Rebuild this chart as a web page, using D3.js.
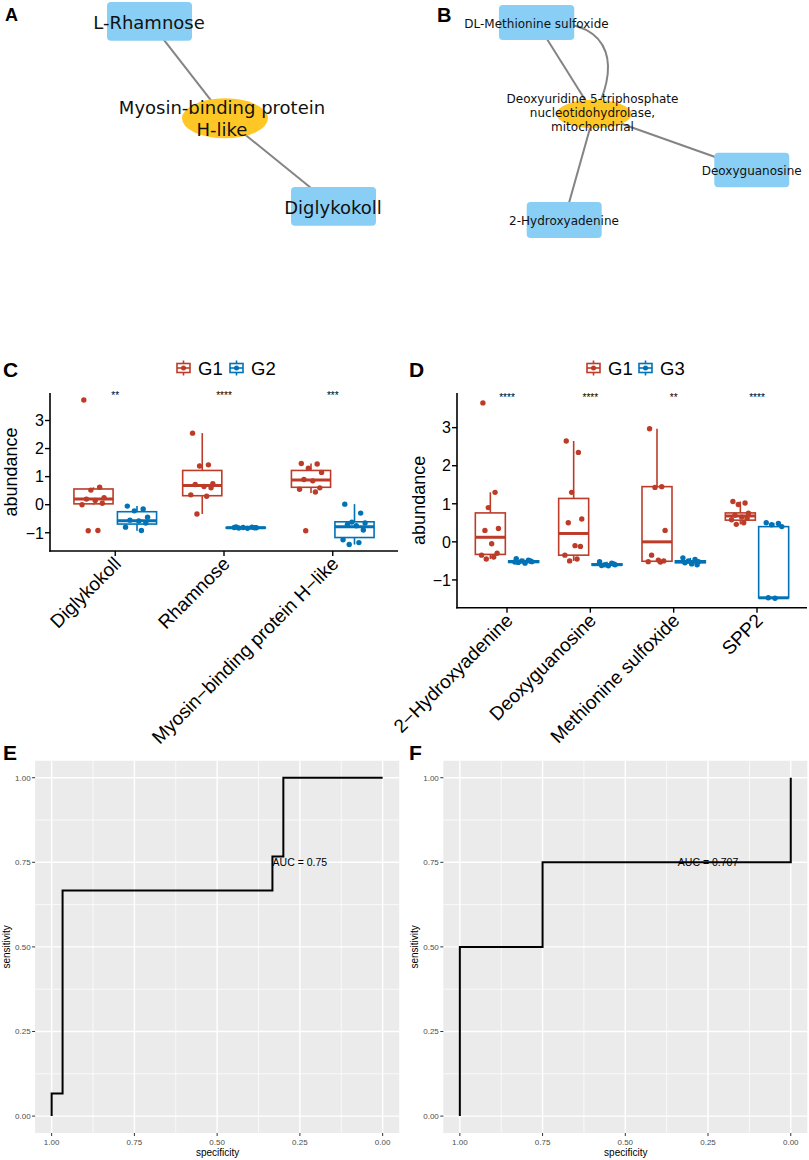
<!DOCTYPE html>
<html><head><meta charset="utf-8">
<script src="https://cdn.jsdelivr.net/npm/d3@7"></script>
<style>body{margin:0;background:#fff} svg{display:block}</style>
</head><body>
<svg id="c" width="809" height="1160"></svg>
<script>
// ---------------- DATA ----------------
// Network A
const netA_labels = ["L-Rhamnose", "Myosin-binding protein\nH-like", "Diglykokoll"];
const netA_types = ["metabolite", "protein", "metabolite"];
const netA_edges = [[0, 1], [1, 2]];
// Network B
const netB_labels = ["DL-Methionine sulfoxide", "Deoxyuridine 5-triphosphate\nnucleotidohydrolase,\nmitochondrial", "Deoxyguanosine", "2-Hydroxyadenine"];
const netB_types = ["metabolite", "protein", "metabolite", "metabolite"];
const netB_edges = [[0, 1], [0, 1], [1, 2], [1, 3]];

// Panel C boxplots : stats = [lower whisker, Q1, median, Q3, upper whisker]
const cCategories = ["Diglykokoll", "Rhamnose", "Myosin\u2212binding protein H\u2212like"];
const cGroups = ["G1", "G2"];
const cG1Stats = [[0.0, 0.03, 0.2, 0.56, 0.62], [-0.33, 0.32, 0.68, 1.22, 2.55], [0.42, 0.62, 0.88, 1.22, 1.47]];
const cG2Stats = [[-0.93, -0.69, -0.57, -0.25, -0.05], [-0.84, -0.83, -0.82, -0.81, -0.79], [-1.42, -1.17, -0.79, -0.61, 0.02]];
const cG1Points = [
  [3.73, 0.62, 0.52, 0.25, 0.2, 0.15, 0.05, 0.0, -0.92, -0.93],
  [2.55, 1.42, 1.38, 0.75, 0.72, 0.65, 0.6, 0.35, 0.3, -0.33],
  [1.47, 1.45, 1.3, 1.15, 0.9, 0.85, 0.6, 0.55, 0.45, -0.93]];
const cG2Points = [
  [-0.05, -0.15, -0.22, -0.45, -0.55, -0.58, -0.65, -0.8, -0.92],
  [-0.79, -0.8, -0.81, -0.82, -0.83, -0.84, -0.82, -0.81],
  [0.02, -0.3, -0.62, -0.65, -0.7, -0.75, -0.9, -1.25, -1.35, -1.42]];
const cSignif = ["**", "****", "***"];
const cYTicks = [-1, 0, 1, 2, 3];

// Panel D boxplots
const dCategories = ["2\u2212Hydroxyadenine", "Deoxyguanosine", "Methionine sulfoxide", "SPP2"];
const dGroups = ["G1", "G3"];
const dG1Stats = [[-0.45, -0.33, 0.12, 0.76, 1.3], [-0.5, -0.35, 0.22, 1.14, 2.65], [-0.53, -0.51, 0.0, 1.45, 2.97], [0.46, 0.57, 0.68, 0.76, 1.06]];
const dG3Stats = [[-0.56, -0.54, -0.52, -0.5, -0.44], [-0.63, -0.61, -0.6, -0.58, -0.52], [-0.6, -0.55, -0.52, -0.5, -0.42], [-1.48, -1.47, -1.47, 0.4, 0.5]];
const dG1Points = [
  [3.65, 1.3, 0.9, 0.35, 0.3, -0.05, -0.3, -0.35, -0.4, -0.45],
  [2.65, 2.35, 1.3, 0.6, 0.5, -0.1, -0.12, -0.35, -0.45, -0.5],
  [2.97, 1.45, 1.43, 0.3, -0.35, -0.48, -0.5, -0.52, -0.53],
  [1.06, 1.02, 0.98, 0.75, 0.7, 0.65, 0.62, 0.58, 0.5, 0.46]];
const dG3Points = [
  [-0.44, -0.48, -0.5, -0.52, -0.54, -0.56, -0.5, -0.53],
  [-0.52, -0.56, -0.6, -0.6, -0.62, -0.63, -0.58],
  [-0.42, -0.46, -0.5, -0.52, -0.55, -0.58, -0.6],
  [0.5, 0.48, 0.45, 0.4, -1.47, -1.48]];
const dSignif = ["****", "****", "**", "****"];
const dYTicks = [-1, 0, 1, 2, 3];

// ROC curves
const rocTicks = [0, 0.25, 0.5, 0.75, 1];
const rocTickLabels = ["0.00", "0.25", "0.50", "0.75", "1.00"];
const rocMinor = [0.125, 0.375, 0.625, 0.875];
const rocE_spec = [1, 1, 0.967, 0.967, 0.333, 0.333, 0.3, 0.3, 0];
const rocE_sens = [0, 0.067, 0.067, 0.667, 0.667, 0.767, 0.767, 1, 1];
const rocE_auc = "AUC = 0.75";
const rocF_spec = [1, 1, 0.75, 0.75, 0, 0];
const rocF_sens = [0, 0.5, 0.5, 0.75, 0.75, 1];
const rocF_auc = "AUC = 0.707";

// ---------------- DRAWING ----------------
const svg = d3.select("#c");
const RED = "#BC3C29", BLUE = "#0072B5";
const AR = "Liberation Sans, Arial, Helvetica, sans-serif";
const NETF = "DejaVu Sans, Verdana, sans-serif";

function panelLabel(t, x, y, size) {
  svg.append("text").attr("x", x).attr("y", y).text(t)
    .attr("font-family", AR).attr("font-weight", "bold").attr("font-size", size).attr("fill", "#000");
}

// Network drawing
function drawNet(labels, types, edges, layout, edgeCurves, fontSize, lineH) {
  const g = svg.append("g");
  edges.forEach((e, i) => {
    const a = layout[e[0]], b = layout[e[1]];
    const c = edgeCurves[i];
    const d = d3.path();
    d.moveTo(a.x, a.y);
    if (c) d.bezierCurveTo(c[0], c[1], c[2], c[3], b.x, b.y);
    else d.lineTo(b.x, b.y);
    g.append("path").attr("d", d.toString()).attr("fill", "none").attr("stroke", "#848484").attr("stroke-width", 2);
  });
  labels.forEach((l, i) => {
    const p = layout[i];
    if (types[i] === "metabolite") {
      g.append("rect").attr("x", p.x - p.w / 2).attr("y", p.y - p.h / 2).attr("width", p.w).attr("height", p.h)
        .attr("rx", 4).attr("fill", "#89CFF5");
    } else {
      g.append("ellipse").attr("cx", p.x).attr("cy", p.y).attr("rx", p.w / 2).attr("ry", p.h / 2).attr("fill", "#FFC726");
    }
  });
  labels.forEach((l, i) => {
    const p = layout[i];
    const lines = l.split("\n");
    const t = g.append("text").attr("font-family", NETF).attr("font-size", fontSize).attr("fill", "#111")
      .attr("text-anchor", "middle");
    lines.forEach((ln, k) => {
      t.append("tspan").attr("x", p.tx).attr("y", p.ty + (k - (lines.length - 1) / 2) * lineH).attr("dy", "0.35em").text(ln);
    });
  });
}

const layoutA = [
  {x: 149.5, y: 21.3, w: 85, h: 38.7, tx: 149, ty: 22.5},
  {x: 225, y: 118.3, w: 86, h: 40, tx: 222, ty: 119},
  {x: 333.5, y: 206.3, w: 85, h: 38.7, tx: 333, ty: 208}
];
drawNet(netA_labels, netA_types, netA_edges, layoutA, [null, null], 18, 22);

const layoutB = [
  {x: 536.6, y: 22.5, w: 75.3, h: 35, tx: 536.5, ty: 23.5},
  {x: 594, y: 114, w: 75, h: 28.6, tx: 592.5, ty: 113},
  {x: 751.8, y: 170, w: 75, h: 34.6, tx: 751.7, ty: 171},
  {x: 564.2, y: 220, w: 75, h: 36, tx: 564, ty: 220.5}
];
drawNet(netB_labels, netB_types, netB_edges, layoutB, [null, [622, 18, 616, 75], null, null], 12, 14);

panelLabel("A", 5, 21, 18);
panelLabel("B", 437, 22, 20);

// Boxplot panel
function drawBox(o) {
  const g = svg.append("g");
  const x = d3.scalePoint().domain(o.cats).range([o.left, o.right]).padding(0.6);
  const step = x.step();
  const y = d3.scaleLinear().domain(o.domain).range([o.bottom, o.top]);
  const bw = 0.36 * step, off = 0.2 * step;
  const jit = [-0.55, 0.35, -0.15, 0.6, -0.4, 0.1, 0.5, -0.65, 0.25, -0.3];
  const groups = [{stats: o.s1, pts: o.p1, col: RED, d: -off}, {stats: o.s2, pts: o.p2, col: BLUE, d: off}];
  groups.forEach(gr => {
    o.cats.forEach((c, i) => {
      const cx = x(c) + gr.d;
      const s = gr.stats[i];
      const gg = g.append("g");
      gg.append("line").attr("x1", cx).attr("x2", cx).attr("y1", y(s[4])).attr("y2", y(s[3])).attr("stroke", gr.col).attr("stroke-width", 1.6);
      gg.append("line").attr("x1", cx).attr("x2", cx).attr("y1", y(s[1])).attr("y2", y(s[0])).attr("stroke", gr.col).attr("stroke-width", 1.6);
      gg.append("rect").attr("x", cx - bw / 2).attr("width", bw).attr("y", y(s[3])).attr("height", Math.max(0.5, y(s[1]) - y(s[3])))
        .attr("fill", "#fff").attr("stroke", gr.col).attr("stroke-width", 1.6);
      gg.append("line").attr("x1", cx - bw / 2).attr("x2", cx + bw / 2).attr("y1", y(s[2])).attr("y2", y(s[2])).attr("stroke", gr.col).attr("stroke-width", 3);
      gr.pts[i].forEach((v, k) => {
        gg.append("circle").attr("cx", cx + jit[k % jit.length] * bw * 0.45).attr("cy", y(v)).attr("r", 2.7).attr("fill", gr.col);
      });
    });
  });
  // axes
  g.append("line").attr("x1", o.left).attr("x2", o.left).attr("y1", o.top).attr("y2", o.bottom + 0.8).attr("stroke", "#000").attr("stroke-width", 1.6);
  g.append("line").attr("x1", o.left - 0.8).attr("x2", o.right).attr("y1", o.bottom).attr("y2", o.bottom).attr("stroke", "#000").attr("stroke-width", 1.6);
  o.ticks.forEach(t => {
    g.append("line").attr("x1", o.left - 5).attr("x2", o.left).attr("y1", y(t)).attr("y2", y(t)).attr("stroke", "#000").attr("stroke-width", 1.4);
    g.append("text").attr("x", o.left - 6).attr("y", y(t)).attr("dy", "0.36em").attr("text-anchor", "end")
      .attr("font-family", AR).attr("font-size", 16).attr("fill", "#000").text(t < 0 ? "\u2212" + Math.abs(t) : t);
  });
  o.cats.forEach((c, i) => {
    g.append("line").attr("x1", x(c)).attr("x2", x(c)).attr("y1", o.bottom).attr("y2", o.bottom + 5).attr("stroke", "#000").attr("stroke-width", 1.4);
    g.append("text").attr("transform", `translate(${x(c) + 7},${o.bottom + 14}) rotate(-45)`).attr("text-anchor", "end")
      .attr("font-family", AR).attr("font-size", 19).attr("fill", "#000").text(c);
    g.append("text").attr("x", x(c)).attr("y", o.sigY).attr("text-anchor", "middle").attr("font-family", AR)
      .attr("font-size", 10).attr("fill", "#000").text(o.sig[i]);
  });
  g.append("text").attr("transform", `translate(${o.titleX},${(o.top + o.bottom) / 2}) rotate(-90)`).attr("text-anchor", "middle")
    .attr("font-family", AR).attr("font-size", 18).attr("fill", "#000").text("abundance");
  // legend
  [[o.groups[0], RED, o.leg[0]], [o.groups[1], BLUE, o.leg[1]]].forEach(([lab, col, lx]) => {
    const ly = o.legY;
    const lg = g.append("g");
    lg.append("line").attr("x1", lx + 6.5).attr("x2", lx + 6.5).attr("y1", ly - 7.5).attr("y2", ly + 7.5).attr("stroke", col).attr("stroke-width", 1.6);
    lg.append("rect").attr("x", lx).attr("y", ly - 4.5).attr("width", 13).attr("height", 9).attr("fill", "#fff").attr("stroke", col).attr("stroke-width", 1.6);
    lg.append("line").attr("x1", lx).attr("x2", lx + 13).attr("y1", ly).attr("y2", ly).attr("stroke", col).attr("stroke-width", 1.6);
    lg.append("circle").attr("cx", lx + 6.5).attr("cy", ly).attr("r", 2.5).attr("fill", col);
    lg.append("text").attr("x", lx + 21).attr("y", ly + 7).attr("font-family", AR).attr("font-size", 18.5).attr("fill", "#000").text(lab);
  });
}

drawBox({cats: cCategories, groups: cGroups, s1: cG1Stats, s2: cG2Stats, p1: cG1Points, p2: cG2Points, sig: cSignif,
  ticks: cYTicks, left: 50, right: 398, top: 393, bottom: 551, domain: [-1.65, 3.98], sigY: 399, titleX: 17, legY: 368, leg: [177, 230]});
drawBox({cats: dCategories, groups: dGroups, s1: dG1Stats, s2: dG3Stats, p1: dG1Points, p2: dG3Points, sig: dSignif,
  ticks: dYTicks, left: 457, right: 807, top: 393, bottom: 607.7, domain: [-1.73, 3.91], sigY: 401, titleX: 425, legY: 368, leg: [587, 639]});
panelLabel("C", 3, 377, 21);
panelLabel("D", 409, 377, 21);

// ROC panel
function drawRoc(o) {
  const g = svg.append("g");
  const x = d3.scaleLinear().domain([1.05, -0.05]).range([o.left, o.right]);
  const y = d3.scaleLinear().domain([-0.05, 1.05]).range([o.bottom, o.top]);
  g.append("rect").attr("x", o.left).attr("y", o.top).attr("width", o.right - o.left).attr("height", o.bottom - o.top).attr("fill", "#EBEBEB");
  rocMinor.forEach(t => {
    g.append("line").attr("x1", x(t)).attr("x2", x(t)).attr("y1", o.top).attr("y2", o.bottom).attr("stroke", "#fff").attr("stroke-width", 0.7);
    g.append("line").attr("y1", y(t)).attr("y2", y(t)).attr("x1", o.left).attr("x2", o.right).attr("stroke", "#fff").attr("stroke-width", 0.7);
  });
  rocTicks.forEach((t, i) => {
    g.append("line").attr("x1", x(t)).attr("x2", x(t)).attr("y1", o.top).attr("y2", o.bottom).attr("stroke", "#fff").attr("stroke-width", 1.4);
    g.append("line").attr("y1", y(t)).attr("y2", y(t)).attr("x1", o.left).attr("x2", o.right).attr("stroke", "#fff").attr("stroke-width", 1.4);
    g.append("line").attr("x1", o.left - 3).attr("x2", o.left).attr("y1", y(t)).attr("y2", y(t)).attr("stroke", "#333").attr("stroke-width", 1);
    g.append("line").attr("y1", o.bottom).attr("y2", o.bottom + 3).attr("x1", x(t)).attr("x2", x(t)).attr("stroke", "#333").attr("stroke-width", 1);
    g.append("text").attr("x", o.left - 4.5).attr("y", y(t)).attr("dy", "0.35em").attr("text-anchor", "end")
      .attr("font-family", AR).attr("font-size", 8).attr("fill", "#4D4D4D").text(rocTickLabels[i]);
    g.append("text").attr("x", x(t)).attr("y", o.bottom + 11.5).attr("text-anchor", "middle")
      .attr("font-family", AR).attr("font-size", 8).attr("fill", "#4D4D4D").text(rocTickLabels[i]);
  });
  const line = d3.line().x(d => x(d[0])).y(d => y(d[1]));
  g.append("path").attr("d", line(o.spec.map((s, i) => [s, o.sens[i]]))).attr("fill", "none").attr("stroke", "#000").attr("stroke-width", 2);
  g.append("text").attr("x", x(0.25)).attr("y", y(0.75)).attr("dy", "0.35em").attr("text-anchor", "middle")
    .attr("font-family", AR).attr("font-size", 10.5).attr("fill", "#000").text(o.auc);
  g.append("text").attr("x", (o.left + o.right) / 2 + 0.5).attr("y", 1156).attr("text-anchor", "middle")
    .attr("font-family", AR).attr("font-size", 10).attr("fill", "#000").text("specificity");
  g.append("text").attr("transform", `translate(${o.titleX},${y(0.5)}) rotate(-90)`).attr("text-anchor", "middle")
    .attr("font-family", AR).attr("font-size", 10).attr("fill", "#000").text("sensitivity");
}
drawRoc({left: 35.1, right: 399.2, top: 760.8, bottom: 1133, spec: rocE_spec, sens: rocE_sens, auc: rocE_auc, titleX: 10});
drawRoc({left: 443.3, right: 807.3, top: 760.8, bottom: 1133, spec: rocF_spec, sens: rocF_sens, auc: rocF_auc, titleX: 418});
panelLabel("E", 3, 760, 21);
panelLabel("F", 409, 760, 21);
</script>
</body></html>
